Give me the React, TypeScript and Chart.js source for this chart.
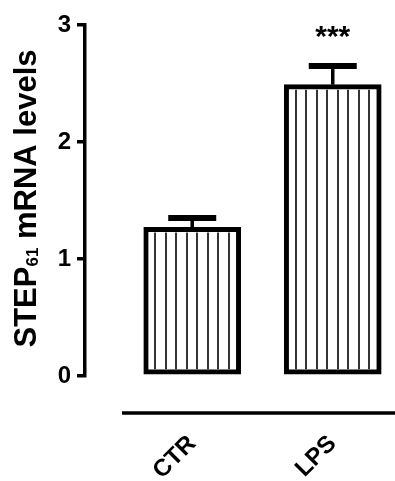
import React, { useEffect, useRef } from 'react';
import { Chart, registerables } from 'chart.js';

Chart.register(...registerables);

const categories = ['CTR', 'LPS'];
const means = [1.27, 2.49];
const sems = [0.08, 0.16];
const significance = ['', '***'];
const yTicks = [0, 1, 2, 3];
const yTitleMain = 'STEP';
const yTitleSub = '61';
const yTitleRest = ' mRNA levels';

const FONT = '"Liberation Sans", Arial, sans-serif';
const BORDER = 5;

export default function App() {
  const ref = useRef<HTMLCanvasElement>(null);

  useEffect(() => {
    const canvas = ref.current!;

    const decorPlugin = {
      id: 'decor',
      afterDatasetsDraw(chart: any) {
        const ctx = chart.ctx as CanvasRenderingContext2D;
        const meta = chart.getDatasetMeta(0);
        const yScale = chart.scales.y;
        const xScale = chart.scales.x;
        const area = chart.chartArea;
        ctx.save();
        ctx.strokeStyle = '#000';
        ctx.fillStyle = '#000';
        meta.data.forEach((bar: any, i: number) => {
          const { x, y, base } = bar.getProps(['x', 'y', 'base'], true);
          // vertical hatch lines inside the bar
          ctx.lineWidth = 1.6;
          const top = y + BORDER;
          const bottom = base - BORDER;
          for (let k = 0; k < 8; k++) {
            const lx = Math.round(x + (k - 3.5) * 10.5);
            ctx.beginPath();
            ctx.moveTo(lx, top);
            ctx.lineTo(lx, bottom);
            ctx.stroke();
          }
          // error bar (upper only)
          const yTop = yScale.getPixelForValue(means[i] + sems[i]);
          ctx.lineWidth = 3.5;
          ctx.beginPath();
          ctx.moveTo(x, y);
          ctx.lineTo(x, yTop);
          ctx.stroke();
          ctx.lineWidth = 6;
          ctx.beginPath();
          ctx.moveTo(x - 24, yTop);
          ctx.lineTo(x + 24, yTop);
          ctx.stroke();
          // significance
          if (significance[i]) {
            ctx.font = `bold 30px ${FONT}`;
            ctx.textAlign = 'center';
            ctx.textBaseline = 'alphabetic';
            ctx.fillText(significance[i], x, yTop - 20);
          }
        });
        // detached x axis line
        const left = xScale.getPixelForValue(-0.5);
        const ly = area.bottom + 37;
        ctx.lineWidth = 3.5;
        ctx.beginPath();
        ctx.moveTo(left, ly);
        ctx.lineTo(canvas.width + 5, ly);
        ctx.stroke();

        // rotated category labels
        ctx.font = `bold 24px ${FONT}`;
        ctx.textAlign = 'right';
        ctx.textBaseline = 'middle';
        categories.forEach((c, i) => {
          const px = xScale.getPixelForValue(i);
          ctx.save();
          ctx.translate(px, area.bottom + 64);
          ctx.rotate(-Math.PI / 4);
          ctx.fillText(c, 0, 0);
          ctx.restore();
        });

        // y axis title with subscript
        const cy = (area.top + area.bottom) / 2 - 2;
        const cx = 25;
        const mainFont = `bold 31px ${FONT}`;
        const subFont = `bold 17px ${FONT}`;
        ctx.font = mainFont;
        const w1 = ctx.measureText(yTitleMain).width;
        const w3 = ctx.measureText(yTitleRest).width;
        ctx.font = subFont;
        const w2 = ctx.measureText(yTitleSub).width;
        const total = w1 + w2 + w3;
        ctx.translate(cx, cy);
        ctx.rotate(-Math.PI / 2);
        ctx.textAlign = 'left';
        ctx.textBaseline = 'alphabetic';
        let pos = -total / 2;
        ctx.font = mainFont;
        ctx.fillText(yTitleMain, pos, 11);
        pos += w1;
        ctx.font = subFont;
        ctx.fillText(yTitleSub, pos, 13);
        pos += w2;
        ctx.font = mainFont;
        ctx.fillText(yTitleRest, pos, 11);
        ctx.restore();
      },
    };

    const chart = new Chart(canvas, {
      type: 'bar',
      data: {
        datasets: [
          {
            data: means.map((v, i) => ({ x: i, y: v })),
            backgroundColor: '#fff',
            borderColor: '#000',
            borderWidth: BORDER,
            borderSkipped: false,
            barThickness: 97,
          },
        ],
      },
      options: {
        responsive: false,
        animation: false,
        devicePixelRatio: 1,
        layout: { padding: { top: 25, left: 0, right: 0, bottom: 0 } },
        plugins: {
          legend: { display: false },
          tooltip: { enabled: false },
        },
        scales: {
          x: {
            type: 'linear',
            min: -0.763,
            max: 1.443,
            offset: false,
            grid: { display: false, drawTicks: false },
            border: { display: false },
            afterBuildTicks: (s: any) => {
              s.ticks = categories.map((_, i) => ({ value: i }));
            },
            afterFit: (s: any) => {
              s.height = 105;
            },
            ticks: { display: false },
          },
          y: {
            min: 0,
            max: 3,
            afterBuildTicks: (s: any) => {
              s.ticks = yTicks.map((v) => ({ value: v }));
            },
            afterFit: (s: any) => {
              s.width = 85;
            },
            ticks: {
              color: '#000',
              padding: 6,
              font: { family: FONT, size: 24, weight: 'bold' },
            },
            grid: {
              drawOnChartArea: false,
              drawTicks: true,
              tickLength: 8,
              color: '#000',
              lineWidth: 3.5,
            },
            border: { display: true, color: '#000', width: 3.5 },
          },
        },
      } as any,
      plugins: [decorPlugin],
    });

    return () => chart.destroy();
  }, []);

  return (
    <div style={{ position: 'absolute', left: 0, top: 0, width: 395, height: 481, background: '#fff' }}>
      <canvas ref={ref} width={395} height={481} />
    </div>
  );
}
